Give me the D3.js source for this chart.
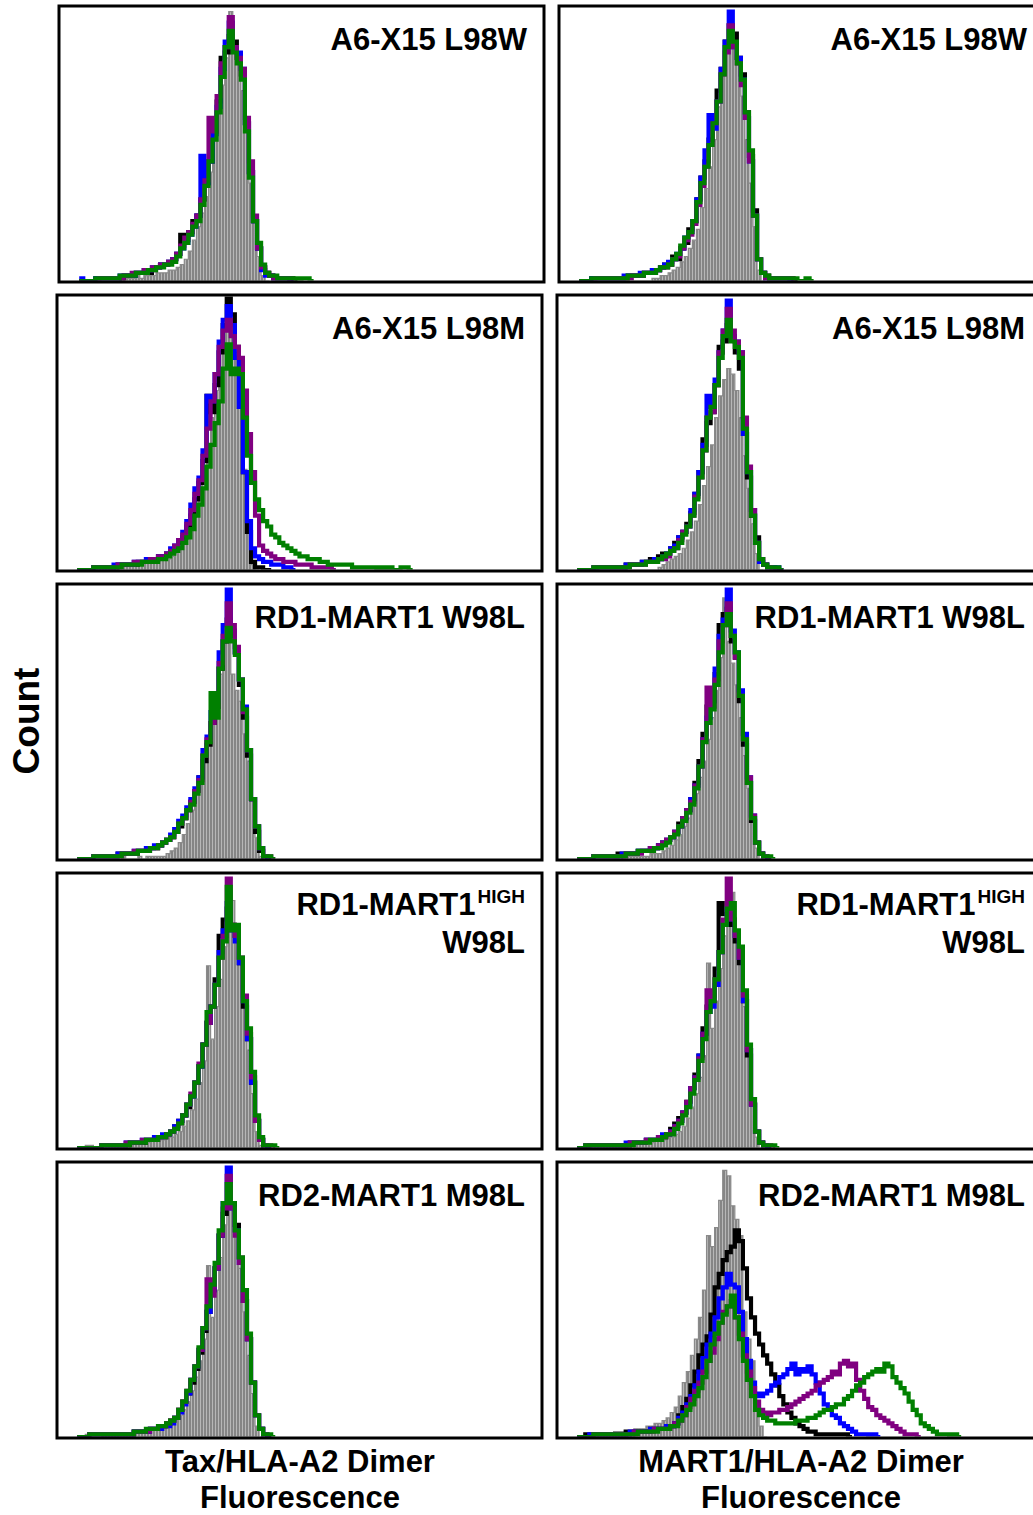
<!DOCTYPE html>
<html>
<head>
<meta charset="utf-8">
<script src="https://cdn.jsdelivr.net/npm/d3@7"></script>
<style>
  body { margin: 0; background: #fff; }
  svg { display: block; }
  text { font-family: "Liberation Sans", Arial, Helvetica, sans-serif; font-weight: bold; fill: #000; }
</style>
</head>
<body>
<div id="chart"></div>
<script>
// 每个直方图的第一个通道（bin）编号，数组下标 0 对应这个 bin
const binStart = 5;
const binMax = 120;

const panelLabels = ["A6-X15 L98W", "A6-X15 L98W", "A6-X15 L98M", "A6-X15 L98M",
  "RD1-MART1 W98L", "RD1-MART1 W98L", "RD1-MART1|HIGH|W98L", "RD1-MART1|HIGH|W98L",
  "RD2-MART1 M98L", "RD2-MART1 M98L"];
const xTitles = [["Tax/HLA-A2 Dimer", "Fluorescence"], ["MART1/HLA-A2 Dimer", "Fluorescence"]];
const yTitle = "Count";
const seriesNames = ["black", "blue", "purple", "green"];

// 行 1：A6-X15 L98W
const r1L_gray = [0,0,0,0,0,0,0,0,0,0, 1,1,1,1,2,1,2,2,2,3,3,3,4,4,5, 6,8,11,15,20,25,31,40,52,64,72,82,99,87,84,70,55,36,24,9,2,0];
const r1L_black = [0,0,0,0,1,1,1,1,1,1, 1,2,2,2,3,3,4,3,4,5,6,6,7,8,10, 17,15,18,22,24,30,36,44,55,66,82,84,90,88,82,76,58,40,22,12,5, 3,2,1,1,1,1,1,0];
const r1L_blue = [1,0,0,0,1,1,1,1,1,1, 2,2,2,2,3,3,4,4,5,5,6,6,7,8,10, 12,14,17,20,24,46,36,44,54,64,78,88,95,86,84,78,58,40,22,12,4, 2,2,1,1,1,1,0];
const r1L_purple = [0,0,0,0,0,1,1,1,1,1, 1,2,2,3,3,3,4,4,5,5,6,6,7,8,10, 13,16,18,21,24,30,37,60,55,68,80,86,97,86,82,78,60,44,24,12,5, 3,2,1,1,1,1,0];
const r1L_green = [0,0,0,0,1,1,1,1,1,1, 2,2,2,2,3,3,3,4,4,5,5,6,6,7,9, 12,14,17,20,22,28,35,44,52,62,75,86,92,84,80,74,55,38,22,14,6, 3,2,2,1,1,1,1,1,0,1,1,0];

const r1R_gray = [0,0,0,0,0,0,0,0,0,0,0,0,0,0,0,0,0,0, 1,1,2,2,3,4,5, 7,9,12,15,19,27,34,42,52,64,76,84,99,90,80,68,52,36,20,4,0];
const r1R_black = [0,0,0,1,1,1,1,1,1,1, 1,1,2,2,2,2,3,3,4,4,5,6,6,9,8, 12,14,19,22,30,38,44,52,60,70,78,88,94,91,82,76,62,46,26,8,3, 2,1,1,1,1,1,1,0];
const r1R_blue = [0,0,0,1,1,1,1,1,1,1, 1,2,2,2,2,3,3,3,4,4,5,6,7,8,10, 12,16,18,22,30,38,48,61,56,66,78,88,99,86,82,74,60,44,24,8,3, 1,1,1,1,1,1,0];
const r1R_purple = [0,0,0,0,1,1,1,1,1,1, 1,1,1,2,2,2,3,3,3,4,5,5,6,8,9, 12,15,17,21,28,35,42,50,58,66,76,84,94,86,80,72,60,44,24,8,3, 1,1,1,1,1,1,1,0];
const r1R_green = [0,0,0,1,1,1,1,1,1,1, 1,1,2,2,2,2,3,3,3,4,5,5,6,8,10, 13,16,18,22,29,36,42,50,58,66,76,86,92,88,80,74,62,48,24,8,3, 2,1,1,1,1,1,1,1,0,0,1,0];

// 行 2：A6-X15 L98M
const r2L_gray = [0,0,0,0, 1,1,1,1,1,1,2,2,2,2,2,3,3,3,3,4,4,4, 4,5,6,8,11,15,20,26,32,38,46,56,66,80,90,99,92,80,62,37,16,2,0];
const r2L_black = [0,0,0,0, 1,1,1,1,1,1,2,2,2,2,2,3,3,3,4,4,5,5, 6,7,8,10,12,16,20,26,32,40,64,58,68,80,90,100,94,82,60,36,14,3,1,1,0,0];
const r2L_blue = [0,0,0,0, 1,1,1,1,1,2,2,2,2,2,3,3,3,4,4,4,5,5, 6,8,9,11,14,18,24,30,34,44,64,62,72,84,92,97,90,78,60,36,18,8,5,4,3,3,2,2,2,1,1,0];
const r2L_purple = [0,0,0,0, 1,1,1,1,1,1,2,2,2,2,3,3,3,3,4,4,5,5, 6,7,9,11,13,17,22,28,33,42,52,62,72,82,88,92,86,82,78,66,50,36,20,9,7,6,5,4,4,3,3,3,2,2,2,2,1,1,1,1,1,0];
const r2L_green = [0,0,0,0, 1,1,1,1,1,1,1,2,2,2,2,2,3,3,3,3,4,4,
  5,6,7,8,10,12,15,20,24,30,38,46,54,62,74,83,72,74,72,56,42,32,26,22,18,16,13,12,10,9,8,7,6,5,5,4,4,4,3,3,
  2,2,2,2,2,2,1,1,1,1,1,1,0,1,0,1,0,0,1,1,0];

const r2R_gray = [0,0,0,0,0,0,0,0,0,0,0,0,0,0,0,0,0,0,0,0, 1,2,3,4,5,6,8,11,14,18,24,31,38,46,56,64,70,74,72,66,56,42,30,17,6,0];
const r2R_black = [0,0,0,0, 0,1,1,1,1,1,1,1,2,2,2,2,3,3,4,4,5,6,6,8,10, 12,14,17,21,28,36,48,54,58,68,82,84,90,86,80,74,50,34,20,12,4,2,1,1,0,0];
const r2R_blue = [0,0,0,0, 1,1,1,1,1,1,1,1,2,2,2,2,3,3,3,4,4,5,6,8,9, 12,14,16,22,28,36,46,64,60,70,80,88,99,86,84,80,50,36,22,10,3,2,1,1,1,0];
const r2R_purple = [0,0,0,0, 1,1,1,1,1,1,1,1,1,2,2,2,2,3,3,3,4,4,5,7,8, 11,14,16,20,27,34,44,56,58,68,80,88,96,88,84,80,56,38,22,10,4,2,1,0,0,0];
const r2R_green = [0,0,0,0, 1,1,1,1,1,1,1,1,1,2,2,2,2,3,3,3,4,5,6,7,8, 10,13,16,20,26,34,44,56,60,68,78,86,92,84,82,78,52,36,20,10,4,2,1,1,1,0];

// 行 3：RD1-MART1 W98L
const r3L_gray = [0,0,0,0,0,0,0,0,0,0,0,1,0,0,0,1,0,1,1,1,1, 1,2,3,4,6,9,13,18,24,30,37,45,52,60,68,80,91,68,62,58,46,36,22,8,1,0];
const r3L_black = [0,0,0,0, 1,1,1,1,1,1,2,2,2,2,2,3,3,3,4,4,5,6,7,8,10, 12,15,18,21,25,30,36,42,50,56,70,80,88,82,76,64,52,38,22,10,3,1,0];
const r3L_blue = [0,0,0,0, 1,1,1,1,1,1,2,2,2,2,3,3,3,4,4,5,5,6,7,9,11, 14,16,19,22,26,30,40,45,54,58,76,86,99,84,76,66,56,40,22,12,4,1,0];
const r3L_purple = [0,0,0,0, 1,1,1,1,1,1,1,2,2,2,3,3,3,3,4,4,5,6,7,8,10, 13,15,18,21,25,29,38,44,50,56,72,82,94,86,78,66,54,40,22,12,4,1,1,0];
const r3L_green = [0,0,0,0, 1,1,1,1,1,1,1,2,2,2,2,3,3,3,4,4,5,6,7,8,10, 13,15,18,20,24,28,38,43,61,52,70,80,85,80,75,66,55,40,22,12,4,1,1,0];

const r3R_gray = [0,0,0,0,0,0,0,0,0,0,0,1,1,1,1,1,1,1,2,2, 2,3,4,5,7,9,12,15,19,24,30,36,44,52,62,74,96,80,72,64,52,38,26,14,4,0];
const r3R_black = [0,0,0,0, 1,1,1,1,1,1,2,2,2,2,2,3,3,3,4,4,5,6,7,8,10, 13,15,18,22,28,36,46,56,58,68,86,90,92,80,74,58,42,28,14,6,2,1,0];
const r3R_blue = [0,0,0,0, 1,1,1,1,1,1,1,2,2,2,2,3,3,3,4,4,5,6,7,8,10, 12,15,18,22,27,34,44,52,58,70,82,88,99,84,76,62,46,30,16,6,2,1,0];
const r3R_purple = [0,0,0,0, 1,1,1,1,1,1,1,1,2,2,2,2,3,3,4,4,5,6,7,8,10, 12,15,18,21,27,34,44,63,56,66,80,86,94,82,74,60,44,30,16,6,2,1,0];
const r3R_green = [0,0,0,0, 1,1,1,1,1,1,1,1,2,2,2,3,3,3,3,4,4,5,6,8,9, 12,14,17,20,26,34,43,50,55,64,76,86,90,82,76,60,44,28,15,6,2,1,1,0];

// 行 4：RD1-MART1 HIGH W98L
const r4L_gray = [0,0,1,1,0,0,1,1,1,1,1,1,1,2,2,2,2,2,3,3,3,3,4,4,5, 6,8,10,14,18,24,32,67,40,52,62,74,85,91,80,70,54,36,20,6,1,0];
const r4L_black = [0,0,0,0,0,0,1,1,1,1,1,1,1,2,2,2,2,3,3,3,4,4,5,6,8, 10,12,15,19,24,30,38,46,52,62,78,84,88,82,78,68,52,40,24,10,3,1,0];
const r4L_blue = [0,0,0,0,0,0,1,1,1,1,1,1,2,2,2,2,3,3,3,4,4,5,5,6,8, 10,12,16,19,24,30,38,46,52,60,72,80,90,80,76,68,54,40,24,10,3,1,0];
const r4L_purple = [0,0,0,0,0,0,1,1,1,1,1,1,2,2,2,2,3,3,3,3,4,4,5,6,7, 9,12,16,20,24,31,38,46,52,60,70,78,99,82,78,70,56,42,26,10,3,1,1,0];
const r4L_green = [0,0,0,0,0,0,1,1,1,1,1,1,1,2,2,2,2,3,3,3,4,4,5,6,7, 9,12,16,19,24,30,38,50,52,60,70,76,96,80,82,70,54,44,28,12,4,1,1,1,0];

const r4R_gray = [0,0,1,1,1,1,1,1,1,1,1,1,1,2,2,2,2,2,2,3,3,3,4,4,5, 6,8,11,15,20,26,34,68,44,54,66,78,88,94,80,70,52,34,16,4,0];
const r4R_black = [0,0,0,1,1,1,1,1,1,1,1,1,1,2,2,2,2,3,3,3,4,4,5,7,9, 11,13,17,22,27,34,44,52,56,66,90,86,86,82,76,68,54,34,16,6,2,1,0];
const r4R_blue = [0,0,1,1,1,1,1,1,1,1,1,1,2,2,2,2,2,3,3,3,4,5,5,6,8, 10,13,16,22,26,34,42,50,52,60,72,82,88,84,78,70,54,36,16,6,2,1,0];
const r4R_purple = [0,0,1,1,1,1,1,1,1,1,1,1,1,2,2,2,2,3,3,3,4,4,5,6,8, 10,13,17,22,26,33,42,58,54,62,72,84,99,84,78,70,56,36,16,6,2,1,1,0];
const r4R_green = [0,0,1,1,1,1,1,1,1,1,1,1,1,1,2,2,2,2,3,3,3,4,5,5,7, 9,12,15,20,25,32,40,50,54,62,72,82,88,90,80,74,58,38,18,6,2,1,1,1,0];

// 行 5：RD2-MART1 M98L
const r5L_gray = [0,0,1,0,0,0,1,1,1,1,1,1,1,1,2,2,2,2,3,3,3,4,4,5,6, 8,10,13,17,22,28,36,63,44,54,66,78,88,84,76,62,46,30,16,4,0];
const r5L_black = [0,0,0,1,1,1,1,1,1,1,1,1,1,1,2,2,2,2,3,3,3,4,5,6,7, 10,13,16,20,25,31,39,46,54,62,74,82,86,86,78,66,50,36,20,8,3,1,0];
const r5L_blue = [0,0,0,1,1,1,1,1,1,1,1,1,1,1,2,2,2,2,3,3,3,4,4,5,7, 9,12,16,21,26,32,40,46,54,62,74,86,99,84,76,64,50,36,20,8,3,1,0];
const r5L_purple = [0,0,0,1,1,1,1,1,1,1,1,1,1,1,2,2,2,2,3,3,4,4,5,6,7, 10,13,17,21,26,32,40,58,52,62,74,84,96,84,74,64,50,36,20,8,3,1,0];
const r5L_green = [0,0,0,1,1,1,1,1,1,1,1,1,1,1,2,2,2,3,3,3,4,4,5,6,7, 10,13,17,21,26,33,40,48,56,64,76,86,93,86,76,66,54,38,20,8,3,1,1,0];

const r5R_gray = [0,0,1,1,1,1,1,1,1,2,2,2,2,2,3,3,3,4,4,5,5,6,7,9,11, 15,20,24,30,36,44,54,74,70,77,87,98,96,85,80,74,46,36,28,12,4,0];
const r5R_black = [0,0,1,1,1,1,1,1,1,1,1,1,2,2,2,2,2,2,3,3,3,3,4,4,5,
  8,11,14,19,24,30,34,37,45,55,60,65,68,70,76,72,62,51,44,38,34,30,27,23,19,15,12,9,7,5,
  4,3,2,2,1,1,1,1,1,1,1,1,0];
const r5R_blue = [0,0,0,1,1,1,1,1,1,1,1,1,1,2,2,2,2,2,3,3,3,3,4,4,5,
  7,9,12,15,19,24,29,34,38,44,51,55,60,56,55,46,36,28,20,16,15,16,17,19,20,22,23,25,27,23,
  25,24,26,23,20,16,12,10,8,7,5,4,3,2,1,1,1,0,1,0];
const r5R_purple = [0,0,0,0,1,1,1,1,1,1,1,1,1,1,2,2,2,2,2,3,3,3,3,4,5,
  6,8,11,14,17,20,24,28,31,36,42,46,48,50,44,38,30,24,18,13,10,9,8,9,9,10,10,11,12,13,
  14,15,16,17,19,20,21,22,24,23,27,28,26,27,21,17,14,11,10,8,7,6,5,4,3,2,1,1,1,0];
const r5R_green = [0,0,0,0,1,1,1,1,1,1,1,1,1,1,1,2,2,2,2,2,3,3,3,4,4,
  6,8,10,12,15,18,22,28,34,38,42,45,48,52,44,36,28,21,15,10,8,7,6,6,5,5,5,5,5,6,
  6,6,7,7,8,9,10,10,11,12,12,14,15,17,19,20,22,23,24,25,24,27,26,22,20,18,16,13,10,8,
  5,4,3,2,1,1,1,0,1,0];

const panels = [
  { gray: r1L_gray, black: r1L_black, blue: r1L_blue, purple: r1L_purple, green: r1L_green },
  { gray: r1R_gray, black: r1R_black, blue: r1R_blue, purple: r1R_purple, green: r1R_green },
  { gray: r2L_gray, black: r2L_black, blue: r2L_blue, purple: r2L_purple, green: r2L_green },
  { gray: r2R_gray, black: r2R_black, blue: r2R_blue, purple: r2R_purple, green: r2R_green },
  { gray: r3L_gray, black: r3L_black, blue: r3L_blue, purple: r3L_purple, green: r3L_green },
  { gray: r3R_gray, black: r3R_black, blue: r3R_blue, purple: r3R_purple, green: r3R_green },
  { gray: r4L_gray, black: r4L_black, blue: r4L_blue, purple: r4L_purple, green: r4L_green },
  { gray: r4R_gray, black: r4R_black, blue: r4R_blue, purple: r4R_purple, green: r4R_green },
  { gray: r5L_gray, black: r5L_black, blue: r5L_blue, purple: r5L_purple, green: r5L_green },
  { gray: r5R_gray, black: r5R_black, blue: r5R_blue, purple: r5R_purple, green: r5R_green }
];

// 尺寸
const width = 1033;
const height = 1515;
const panelW = 485;
const panelH = 276;
const colorMap = { black: "#000000", blue: "#0000ff", purple: "#800080", green: "#008000" };

const svg = d3.select("#chart").append("svg")
  .attr("width", width)
  .attr("height", height);

const defs = svg.append("defs");
// 灰色直方图的竖条纹
const pat = defs.append("pattern")
  .attr("id", "grayBars")
  .attr("patternUnits", "userSpaceOnUse")
  .attr("width", 3)
  .attr("height", 10);
pat.append("rect").attr("width", 3).attr("height", 10).attr("fill", "#858585");
pat.append("rect").attr("x", 2.2).attr("width", 0.8).attr("height", 10).attr("fill", "#c4c4c4");

const toPoints = arr => {
  const pts = arr.map((v, i) => ({ b: binStart + i, v }));
  pts.push({ b: binStart + arr.length, v: arr[arr.length - 1] });
  return pts;
};

panels.forEach((p, i) => {
  const row = Math.floor(i / 2);
  const col = i % 2;
  const left = (col === 0 ? 57 : 557) + (row === 0 ? 2 : 0);
  const top = 6 + row * 289;

  const x = d3.scaleLinear().domain([0, binMax]).range([left, left + panelW]);
  const y = d3.scaleLinear().domain([0, 100]).range([top + panelH - 1, top + 3]);

  const g = svg.append("g").attr("class", "panel");

  defs.append("clipPath").attr("id", "clip" + i)
    .append("rect")
    .attr("x", left + 1.5).attr("y", top + 1.5)
    .attr("width", panelW - 3).attr("height", panelH - 3);

  const plot = g.append("g").attr("clip-path", `url(#clip${i})`);

  const area = d3.area()
    .curve(d3.curveStepAfter)
    .x(d => x(d.b))
    .y0(y(0))
    .y1(d => y(d.v));

  const line = d3.line()
    .curve(d3.curveStepAfter)
    .x(d => x(d.b))
    .y(d => y(d.v));

  plot.append("path")
    .datum(toPoints(p.gray))
    .attr("d", area)
    .attr("fill", "url(#grayBars)")
    .attr("stroke", "#8a8a8a")
    .attr("stroke-width", 1.2);

  seriesNames.forEach(s => {
    plot.append("path")
      .datum(toPoints(p[s]))
      .attr("d", line)
      .attr("fill", "none")
      .attr("stroke", colorMap[s])
      .attr("stroke-width", 4.2)
      .attr("stroke-linejoin", "miter");
  });

  g.append("rect")
    .attr("x", left).attr("y", top)
    .attr("width", panelW).attr("height", panelH)
    .attr("fill", "none")
    .attr("stroke", "#000")
    .attr("stroke-width", 3);

  // 面板标签
  const parts = panelLabels[i].split("|");
  const lx = left + 468;
  if (parts.length === 1) {
    g.append("text")
      .attr("x", lx).attr("y", top + 44)
      .attr("text-anchor", "end")
      .attr("font-size", 31)
      .text(parts[0]);
  } else {
    const t = g.append("text")
      .attr("x", lx).attr("y", top + 42)
      .attr("text-anchor", "end")
      .attr("font-size", 31);
    t.append("tspan").text(parts[0]);
    t.append("tspan").attr("font-size", 19).attr("dy", -12).attr("dx", 2).text(parts[1]);
    g.append("text")
      .attr("x", lx).attr("y", top + 80)
      .attr("text-anchor", "end")
      .attr("font-size", 31)
      .text(parts[2]);
  }
});

// x 轴标题
xTitles.forEach((lines, c) => {
  const cx = c === 0 ? 300 : 801;
  lines.forEach((ln, k) => {
    svg.append("text")
      .attr("x", cx).attr("y", 1472 + k * 36)
      .attr("text-anchor", "middle")
      .attr("font-size", 31)
      .text(ln);
  });
});

// y 轴标题
svg.append("text")
  .attr("transform", "translate(39,721) rotate(-90)")
  .attr("text-anchor", "middle")
  .attr("font-size", 37)
  .text(yTitle);
</script>
</body>
</html>
